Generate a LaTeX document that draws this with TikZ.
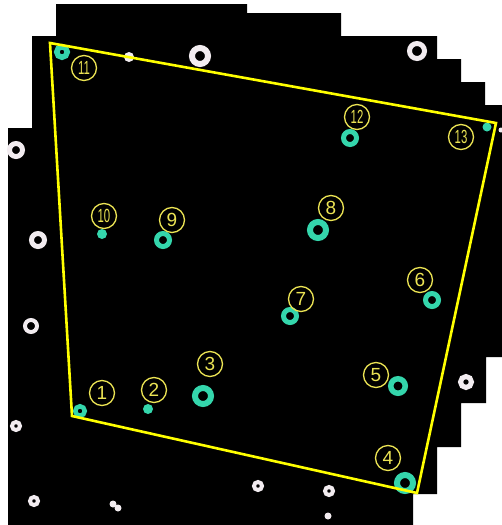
\documentclass[tikz,border=0pt]{standalone}
\usepackage{fontspec}
\setsansfont{Liberation Sans}
\definecolor{seed}{RGB}{52,214,172}
\definecolor{spot}{RGB}{242,236,240}
\definecolor{frame}{RGB}{255,255,0}
\definecolor{tag}{RGB}{236,228,84}
\begin{document}
\begin{tikzpicture}
[
    x=1pt, y=-1pt,
    ring/.style={circle, draw=seed, inner sep=0pt},
    blob/.style={circle, fill=seed, inner sep=0pt},
    wring/.style={circle, draw=spot, inner sep=0pt},
    wblob/.style={circle, fill=spot, inner sep=0pt},
    tagnode/.style={circle, draw=tag, line width=1.3pt, minimum size=25pt,
        inner sep=0pt, text=tag, font=\sffamily\fontsize{19}{19}\selectfont},
    border/.style={draw=frame, line width=2.6pt, line join=miter}
]
    \useasboundingbox (0,0) rectangle (502,525);
    \fill[white] (0,0) rectangle (502,525);
    \fill[black] (56,4) -- (247,4) -- (247,13) -- (341,13) -- (341,36)
        -- (437,36) -- (437,59) -- (461,59) -- (461,82) -- (485,82)
        -- (485,105) -- (502,105) -- (502,357) -- (486,357) -- (486,403)
        -- (461,403) -- (461,447) -- (437,447) -- (437,494) -- (413,494)
        -- (413,525) -- (8,525) -- (8,128) -- (32,128) -- (32,36)
        -- (56,36) -- cycle;

    \foreach \n/\x/\y/\d/\w in {a/200/56/16/6, c/417/51/15/5, d/16/150/13/5,
        e/38/240/13/5, f/31/326/12/4, g/16/426/8/4, h/34/501/8/4,
        j/258/486/8/4, k/329/491/8/4, m/466/382/11/5}
        \node[wring, minimum size=\d pt, line width=\w pt] (w\n) at (\x,\y) {};
    \foreach \n/\x/\y/\d in {b/129/57/10, i/113/504/7, ii/118/508/7,
        l/328/516/7, n/501/130/5}
        \node[wblob, minimum size=\d pt] (w\n) at (\x,\y) {};

    \foreach \n/\x/\y/\d/\w in {1/80/411/9.5/4.5, 3/203/396/16/6,
        4/405/483/16/6, 5/398/386/14.5/5.5, 6/432/300/13/5, 7/290/316/13/5,
        8/318/230/16/6, 9/163/240/13/5, 11/62/52/10.5/5.5, 12/350/138/13/5}
        \node[ring, minimum size=\d pt, line width=\w pt] (t\n) at (\x,\y) {};
    \foreach \n/\x/\y/\d in {2/148/409/10, 10/102/234/10, 13/487/127/9}
        \node[blob, minimum size=\d pt] (t\n) at (\x,\y) {};

    \coordinate (p1) at (50,43);
    \coordinate (p2) at (496,123);
    \coordinate (p3) at (417,493);
    \coordinate (p4) at (72,416);
    \draw[border] (p1) -- (p2) -- (p3) -- (p4) -- cycle;

    \foreach \n/\x/\y in {1/102/393, 2/154/390, 3/210/364, 4/388/458,
        5/376/375, 6/420/280, 7/301/299, 8/331/208, 9/172/220}
        \node[tagnode] (l\n) at (\x,\y) {\n};
    \foreach \n/\x/\y in {10/104/216, 11/84/68, 12/357/117, 13/461/137}
        \node[tagnode] (l\n) at (\x,\y) {\scalebox{0.6}[1]{\n}};
\end{tikzpicture}
\end{document}
